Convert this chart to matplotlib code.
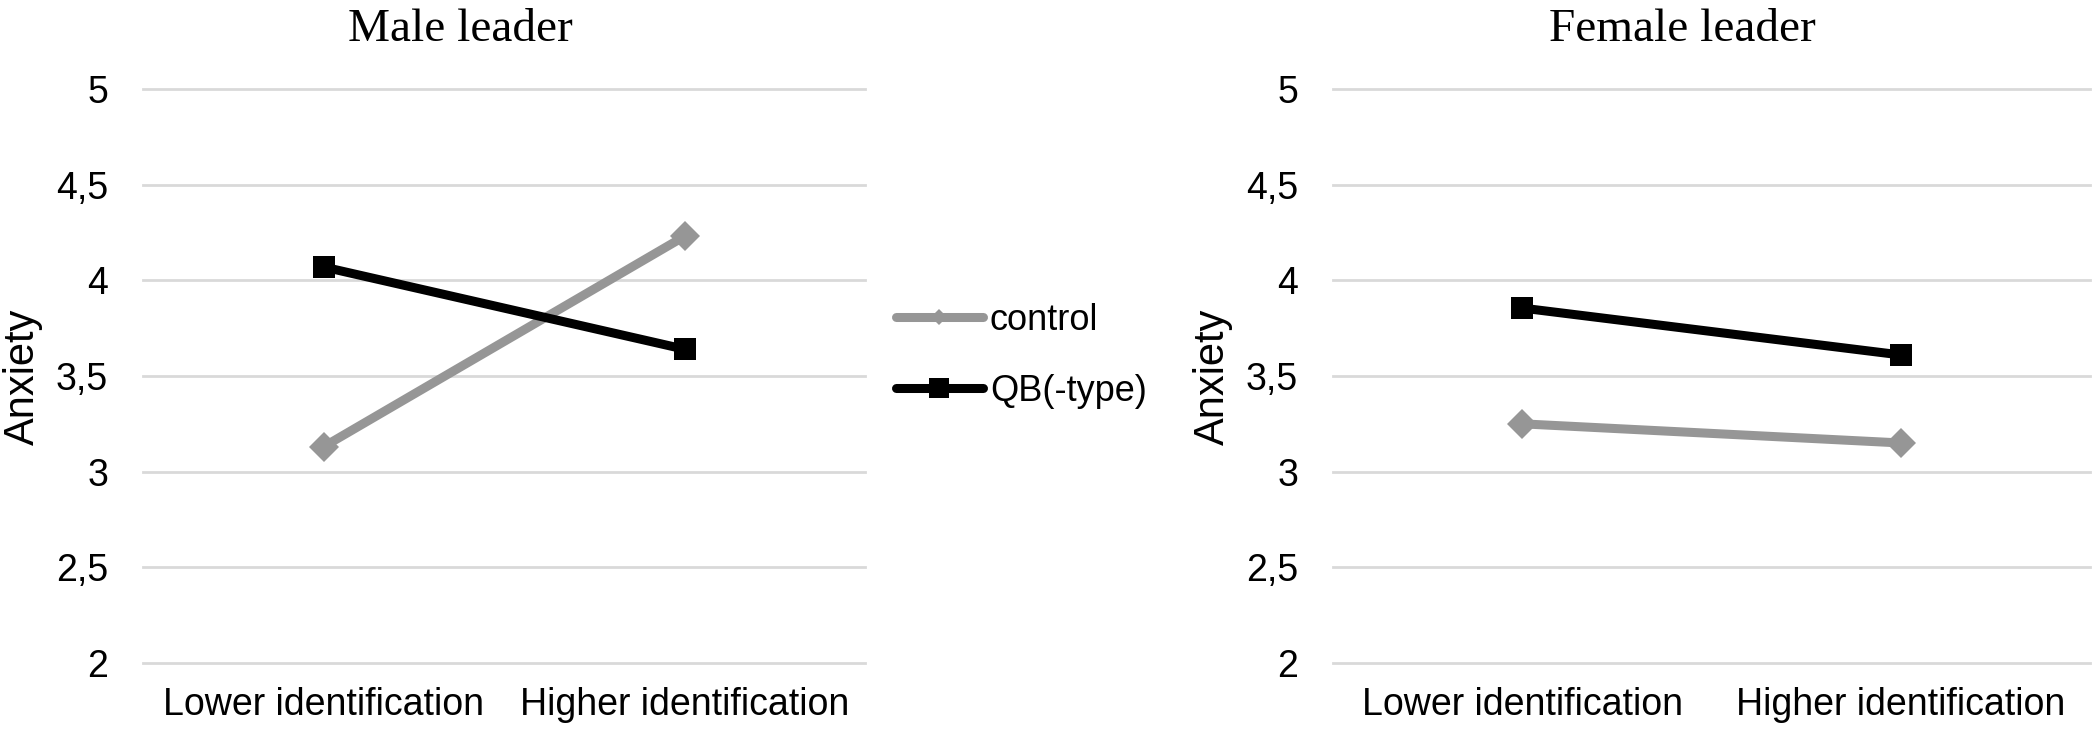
import numpy as np
import matplotlib
matplotlib.use("Agg")
import matplotlib.pyplot as plt
from matplotlib.lines import Line2D

# data
categories = ["Lower identification", "Higher identification"]
male_control = [3.13, 4.23]
male_qb = [4.07, 3.64]
female_control = [3.25, 3.15]
female_qb = [3.855, 3.61]
yticks = [2, 2.5, 3, 3.5, 4, 4.5, 5]
ytick_labels = ["2", "2,5", "3", "3,5", "4", "4,5", "5"]

W, H = 2097, 735
gray = "#969696"
black = "#000000"
grid_col = "#d9d9d9"

plt.rcParams["font.family"] = ["Liberation Sans", "DejaVu Sans"]

fig = plt.figure(figsize=(W / 100, H / 100), dpi=100)

def px_axes(x0, x1, ytop, ybot):
    return fig.add_axes([x0 / W, 1 - ybot / H, (x1 - x0) / W, (ybot - ytop) / H])

ax1 = px_axes(143, 865, 89, 663)
ax2 = px_axes(1333, 2090, 89, 663)

x = np.arange(len(categories))

def draw(ax, control, qb, ylab_px):
    ax.plot(x, control, color=gray, lw=6.5, marker="D", ms=15.5, mew=0,
            solid_capstyle="round", zorder=3)
    ax.plot(x, qb, color=black, lw=6.5, marker="s", ms=15.5, mew=0,
            solid_capstyle="round", zorder=4)
    ax.set_xlim(-0.5, 1.5)
    ax.set_ylim(2, 5)
    ax.set_yticks(yticks)
    ax.set_yticklabels(ytick_labels)
    ax.set_xticks(x)
    ax.set_xticklabels(categories)
    ax.tick_params(axis="y", length=0, pad=25, labelsize=27)
    ax.tick_params(axis="x", length=0, pad=17, labelsize=27)
    for s in ax.spines.values():
        s.set_visible(False)
    ax.yaxis.grid(True, color=grid_col, lw=2)
    for gl in ax.get_ygridlines():
        gl.set_clip_on(False)
    ax.set_axisbelow(True)
    fig.text(ylab_px / W, 1 - 377 / H, "Anxiety", fontsize=30, rotation=90,
             ha="center", va="center")

draw(ax1, male_control, male_qb, 23)
draw(ax2, female_control, female_qb, 1213)

fig.text(460 / W, 1 - 41 / H, "Male leader", family="Liberation Serif",
         fontsize=34, ha="center", va="baseline")
fig.text(1682 / W, 1 - 41 / H, "Female leader", family="Liberation Serif",
         fontsize=34, ha="center", va="baseline")

handles = [
    Line2D([], [], color=gray, lw=6.5, marker="D", ms=8, mew=0, solid_capstyle="round"),
    Line2D([], [], color=black, lw=6.5, marker="s", ms=15, mew=0, solid_capstyle="round"),
]
fig.legend(handles, ["control", "QB(-type)"], loc="center left",
           bbox_to_anchor=(896 / W, 1 - 356 / H), frameon=False,
           fontsize=26, handlelength=2.4, handletextpad=0.2,
           labelspacing=1.0, borderpad=0, borderaxespad=0)

fig.savefig("out.png", dpi=100)
